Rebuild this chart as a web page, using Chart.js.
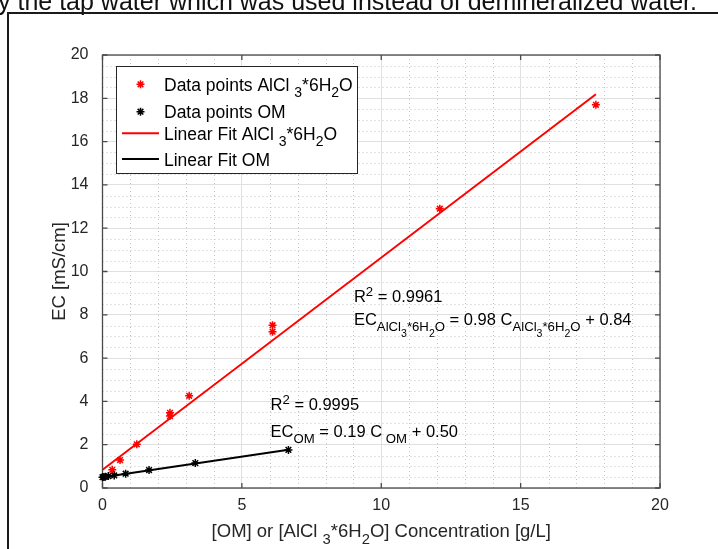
<!DOCTYPE html>
<html lang="en">
<head>
<meta charset="UTF-8">
<title>EC vs concentration</title>
<script src="https://cdn.jsdelivr.net/npm/chart.js"></script>
<style>
  html, body { margin: 0; padding: 0; background: #fff; }
</style>
</head>
<body>
<canvas id="myChart" width="718" height="549"></canvas>
<script>
// AlCl3*6H2O samples (g/L, mS/cm)
const alConc = [0.35, 0.63, 1.23, 2.42, 2.42, 3.11, 6.1, 6.1, 12.1, 17.7];
const alEC   = [0.84, 1.29, 2.02, 3.32, 3.47, 4.26, 7.22, 7.52, 12.9, 17.7];
// organic matter samples
const omConc = [0, 0.05, 0.1, 0.21, 0.42, 0.83, 1.67, 3.33, 6.67];
const omEC   = [0.5, 0.51, 0.52, 0.55, 0.58, 0.66, 0.83, 1.15, 1.76];
// fit line end points
const alFitX = [0, 17.7];
const alFitY = [0.84, 18.19];
const omFitX = [0, 6.67];
const omFitY = [0.5, 1.77];
// axis ticks
const xTicks = [0, 5, 10, 15, 20];
const yTicks = [0, 2, 4, 6, 8, 10, 12, 14, 16, 18, 20];

const FONT = '"Liberation Sans", Arial, Helvetica, sans-serif';
const AX = '#262626';

const toPts = (xs, ys) => xs.map((x, i) => ({x: x, y: ys[i]}));

// draws text with sub/superscripts, parts = [[text, level]]
function rich(ctx, parts, x, y, size, draw) {
  let cx = x;
  parts.forEach(([t, lvl]) => {
    const s = lvl === 0 ? size : size * Math.pow(0.8, Math.abs(lvl));
    let dy = 0;
    if (lvl === 1) dy = -0.36 * size;
    if (lvl === -1) dy = 0.38 * size;
    if (lvl === -2) dy = 0.72 * size;
    ctx.font = s + 'px ' + FONT;
    if (draw) ctx.fillText(t, cx, y + dy);
    cx += ctx.measureText(t).width;
  });
  return cx - x;
}

function star(ctx, x, y, r) {
  ctx.beginPath();
  for (let k = 0; k < 4; k++) {
    const a = k * Math.PI / 4;
    ctx.moveTo(x - r * Math.cos(a), y - r * Math.sin(a));
    ctx.lineTo(x + r * Math.cos(a), y + r * Math.sin(a));
  }
  ctx.stroke();
}

const pagePlugin = {
  id: 'page',
  beforeDraw(chart) {
    const ctx = chart.ctx;
    ctx.save();
    ctx.fillStyle = '#fff';
    ctx.fillRect(0, 0, chart.width, chart.height);
    ctx.fillStyle = '#111';
    ctx.font = '25px ' + FONT;
    ctx.textAlign = 'right';
    ctx.textBaseline = 'alphabetic';
    ctx.fillText('by the tap water which was used instead of demineralized water.', 697, 10);
    ctx.strokeStyle = '#1a1a1a';
    ctx.lineWidth = 2;
    ctx.beginPath();
    ctx.moveTo(8, chart.height + 2);
    ctx.lineTo(8, 13);
    ctx.lineTo(chart.width + 2, 13);
    ctx.stroke();
    ctx.restore();
  }
};

const gridPlugin = {
  id: 'minorGrid',
  beforeDatasetsDraw(chart) {
    const {ctx, chartArea: ca, scales: {x, y}} = chart;
    ctx.save();
    ctx.strokeStyle = '#c4c4c4';
    ctx.lineWidth = 1;
    ctx.setLineDash([1, 3]);
    for (let v = 1; v < 20; v++) {
      if (v % 5 === 0) continue;
      const px = Math.round(x.getPixelForValue(v)) + 0.5;
      ctx.beginPath(); ctx.moveTo(px, ca.top); ctx.lineTo(px, ca.bottom); ctx.stroke();
    }
    for (let v = 0.5; v < 20; v += 0.5) {
      if (v % 2 === 0) continue;
      const py = Math.round(y.getPixelForValue(v)) + 0.5;
      ctx.beginPath(); ctx.moveTo(ca.left, py); ctx.lineTo(ca.right, py); ctx.stroke();
    }
    ctx.setLineDash([]);
    // axes box and inward ticks
    ctx.strokeStyle = '#4a4a4a';
    ctx.lineWidth = 1.3;
    ctx.strokeRect(ca.left, ca.top, ca.right - ca.left, ca.bottom - ca.top);
    ctx.beginPath();
    xTicks.forEach(v => {
      const px = x.getPixelForValue(v);
      ctx.moveTo(px, ca.bottom); ctx.lineTo(px, ca.bottom - 5);
      ctx.moveTo(px, ca.top); ctx.lineTo(px, ca.top + 5);
    });
    yTicks.forEach(v => {
      const py = y.getPixelForValue(v);
      ctx.moveTo(ca.left, py); ctx.lineTo(ca.left + 5, py);
      ctx.moveTo(ca.right, py); ctx.lineTo(ca.right - 5, py);
    });
    ctx.stroke();
    ctx.restore();
  }
};

const alSub = [['AlCl', -1], ['3', -2], ['*6H', -1], ['2', -2], ['O', -1]];

const textPlugin = {
  id: 'texts',
  afterDraw(chart) {
    const {ctx, chartArea: ca, scales: {x, y}} = chart;
    ctx.save();
    ctx.fillStyle = '#000';
    ctx.textAlign = 'left';
    ctx.textBaseline = 'alphabetic';
    const fs = 16.5;
    // fit annotations
    let ax = x.getPixelForValue(9.02);
    rich(ctx, [['R', 0], ['2', 1], [' = 0.9961', 0]], ax, y.getPixelForValue(8.6), fs, true);
    rich(ctx, [['EC', 0]].concat(alSub, [[' = 0.98 C', 0]], alSub, [[' + 0.84', 0]]),
      ax, y.getPixelForValue(7.53), fs, true);
    ax = x.getPixelForValue(6.03);
    rich(ctx, [['R', 0], ['2', 1], [' = 0.9995', 0]], ax, y.getPixelForValue(3.6), fs, true);
    rich(ctx, [['EC', 0], ['OM', -1], [' = 0.19 C', 0], [' OM', -1], [' + 0.50', 0]],
      ax, y.getPixelForValue(2.37), fs, true);

    // x axis title
    ctx.fillStyle = AX;
    const xt = [['[OM] or [AlCl ', 0], ['3', -1], ['*6H', 0], ['2', -1], ['O] Concentration [g/L]', 0]];
    const w = rich(ctx, xt, 0, 0, 18.5, false);
    rich(ctx, xt, (ca.left + ca.right) / 2 - w / 2, 537, 18.5, true);

    // legend
    const lx = ca.left + 13.5, ly = ca.top + 11;
    ctx.fillStyle = '#fff';
    ctx.fillRect(lx, ly, 241, 107);
    ctx.strokeStyle = AX;
    ctx.lineWidth = 1;
    ctx.strokeRect(lx + 0.5, ly + 0.5, 241, 107);
    const ds = chart.data.datasets;
    const rows = [18.3, 45.7, 67.3, 93];
    const labels = [
      [['Data points AlCl ', 0], ['3', -1], ['*6H', 0], ['2', -1], ['O', 0]],
      [['Data points OM', 0]],
      [['Linear Fit AlCl ', 0], ['3', -1], ['*6H', 0], ['2', -1], ['O', 0]],
      [['Linear Fit OM', 0]]
    ];
    ds.forEach((d, i) => {
      const cy = ly + rows[i];
      ctx.strokeStyle = d.borderColor;
      if (d.showLine) {
        ctx.lineWidth = d.borderWidth;
        ctx.beginPath(); ctx.moveTo(lx + 6, cy); ctx.lineTo(lx + 43, cy); ctx.stroke();
      } else {
        ctx.lineWidth = d.pointBorderWidth;
        star(ctx, lx + 24.5, cy, d.pointRadius);
      }
      ctx.fillStyle = '#000';
      rich(ctx, labels[i], lx + 48, cy + 6.5, 17.5, true);
    });
    ctx.restore();
  }
};

const ctx = document.getElementById('myChart');
new Chart(ctx, {
  type: 'scatter',
  data: {
    datasets: [
      { label: 'Data points AlCl3*6H2O', data: toPts(alConc, alEC), pointStyle: 'star',
        pointRadius: 4, pointBorderWidth: 1.5, borderColor: '#ff0000', backgroundColor: '#ff0000',
        showLine: false, clip: false, order: 4 },
      { label: 'Data points OM', data: toPts(omConc, omEC), pointStyle: 'star',
        pointRadius: 4, pointBorderWidth: 1.5, borderColor: '#000', backgroundColor: '#000',
        showLine: false, clip: false, order: 3 },
      { label: 'Linear Fit AlCl3*6H2O', data: toPts(alFitX, alFitY), showLine: true,
        pointRadius: 0, borderColor: '#ff0000', borderWidth: 2, order: 2 },
      { label: 'Linear Fit OM', data: toPts(omFitX, omFitY), showLine: true,
        pointRadius: 0, borderColor: '#000', borderWidth: 2, order: 1 }
    ]
  },
  options: {
    responsive: false,
    animation: false,
    devicePixelRatio: 1,
    layout: { padding: { left: 45, top: 55, right: 58, bottom: 0 } },
    plugins: { legend: { display: false }, tooltip: { enabled: false } },
    scales: {
      x: {
        type: 'linear', min: 0, max: 20,
        afterFit: s => { s.height = 61; },
        afterBuildTicks: s => { s.ticks = xTicks.map(v => ({value: v})); },
        ticks: { color: AX, font: { family: FONT, size: 16 }, padding: 8 },
        grid: { color: '#e0e0e0', drawTicks: false },
        border: { display: false }
      },
      y: {
        type: 'linear', min: 0, max: 20,
        afterFit: s => { s.width = 57.5; },
        afterBuildTicks: s => { s.ticks = yTicks.map(v => ({value: v})); },
        ticks: { color: AX, font: { family: FONT, size: 16 }, padding: 14 },
        grid: { color: '#e0e0e0', drawTicks: false },
        border: { display: false },
        title: { display: true, text: 'EC [mS/cm]', color: AX, font: { family: FONT, size: 18.5 }, padding: 4 }
      }
    }
  },
  plugins: [pagePlugin, gridPlugin, textPlugin]
});
</script>
</body>
</html>
